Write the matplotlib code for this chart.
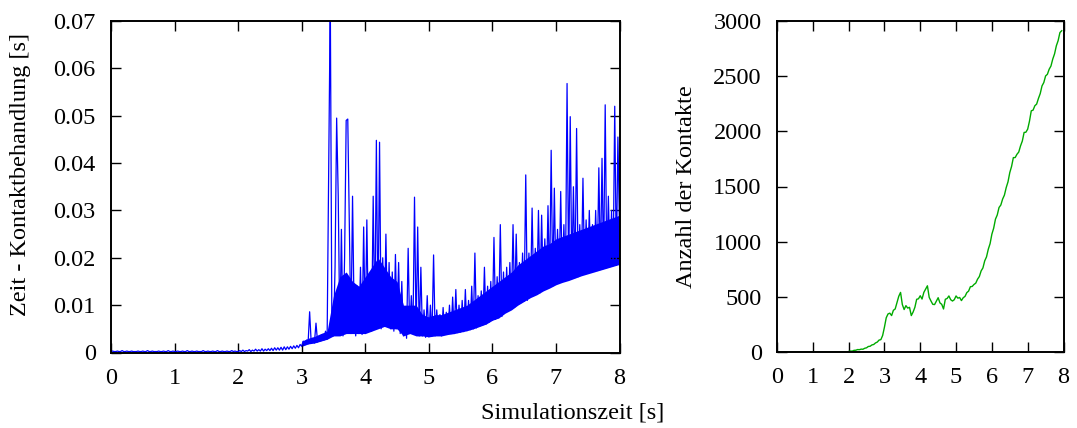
import numpy as np
import matplotlib
matplotlib.use("Agg")
import matplotlib.pyplot as plt

# Kontaktbehandlungszeit je Zeitschritt in ms, Abtastung alle 0.025 s (0 s .. 8 s)
dt_kontaktzeit = 0.025
kontaktzeit_ms = [
    # 0.0 - 1.0 s
    0.2, 0.3, 0.2, 0.2, 0.3, 0.2, 0.2, 0.4, 0.2, 0.2, 0.3, 0.2, 0.2, 0.3, 0.2, 0.2, 0.2, 0.3, 0.2, 0.2,
    0.3, 0.2, 0.2, 0.4, 0.2, 0.2, 0.3, 0.2, 0.2, 0.2, 0.3, 0.2, 0.2, 0.3, 0.2, 0.2, 0.4, 0.2, 0.2, 0.3,
    # 1.0 - 2.0 s
    0.2, 0.2, 0.3, 0.2, 0.2, 0.3, 0.2, 0.2, 0.4, 0.2, 0.2, 0.3, 0.2, 0.2, 0.3, 0.2, 0.2, 0.2, 0.4, 0.2,
    0.2, 0.3, 0.2, 0.2, 0.3, 0.2, 0.2, 0.4, 0.2, 0.2, 0.3, 0.2, 0.2, 0.3, 0.2, 0.2, 0.4, 0.2, 0.3, 0.2,
    # 2.0 - 3.0 s
    0.2, 0.4, 0.2, 0.5, 0.2, 0.4, 0.3, 0.6, 0.2, 0.5, 0.3, 0.7, 0.3, 0.6, 0.3, 0.8, 0.3, 0.7, 0.4, 0.8,
    0.4, 0.9, 0.4, 1.0, 0.5, 1.0, 0.5, 1.1, 0.5, 1.2, 0.6, 1.2, 0.7, 1.3, 0.8, 1.4, 0.9, 1.5, 1.0, 1.7,
    # 3.0 - 4.0 s
    1.3, 2.4, 1.6, 2.6, 1.8, 8.6, 2.0, 3.0, 2.0, 6.2, 2.2, 3.4, 2.4, 3.8, 2.6, 4.5, 2.8, 40.0, 75.0, 5.0,
    3.5, 18.0, 49.5, 33.0, 4.0, 26.0, 3.5, 20.0, 49.0, 49.3, 26.0, 4.0, 33.0, 8.0, 3.5, 14.0, 4.0, 18.0, 3.8, 26.5,
    # 4.0 - 5.0 s
    4.0, 28.0, 5.0, 16.0, 4.5, 33.0, 5.0, 44.8, 6.0, 44.4, 5.0, 20.0, 6.0, 25.0, 5.5, 19.0, 5.0, 17.0, 4.5, 20.7,
    5.0, 19.0, 4.0, 15.0, 3.5, 9.0, 3.0, 22.0, 4.0, 12.0, 4.0, 32.8, 4.0, 26.5, 3.5, 18.0, 3.5, 9.0, 3.2, 12.0,
    # 5.0 - 6.0 s
    3.3, 10.0, 3.5, 20.6, 3.5, 9.0, 3.8, 8.0, 3.5, 9.5, 3.8, 8.5, 4.0, 10.0, 4.0, 11.7, 4.0, 13.3, 4.2, 10.0,
    4.3, 11.0, 4.4, 13.3, 4.6, 11.0, 4.8, 14.0, 5.0, 21.0, 5.2, 12.0, 5.5, 13.0, 5.8, 18.0, 6.0, 14.0, 6.4, 15.0,
    # 6.0 - 7.0 s
    6.8, 24.3, 7.0, 16.0, 7.3, 27.0, 7.6, 17.0, 8.5, 18.0, 8.7, 19.0, 9.2, 27.0, 9.5, 25.0, 10.3, 19.0, 10.5, 21.0,
    10.8, 37.5, 11.0, 21.0, 11.8, 30.5, 12.0, 22.0, 12.3, 30.0, 12.6, 29.0, 13.2, 24.0, 13.4, 31.0, 13.8, 42.7, 14.0, 34.7,
    # 7.0 - 8.0 s
    14.5, 26.0, 14.7, 34.0, 15.0, 27.0, 15.2, 56.8, 15.4, 49.8, 15.6, 35.0, 15.8, 47.3, 16.0, 27.0, 16.4, 36.8, 16.5, 28.0,
    16.7, 30.0, 16.9, 27.0, 17.1, 30.0, 17.3, 39.0, 17.5, 41.0, 17.7, 52.3, 17.9, 33.0, 18.1, 30.0, 18.3, 52.0, 18.4, 45.5,
    # 8.0 s
    26.0,
]

# Dichtes Band der Kontaktbehandlungszeit (untere/obere Grenze in ms), alle 0.1 s von 3.0 s bis 8.0 s
t_band_start, dt_band = 3.0, 0.1
band_unten_ms = [
    1.3, 1.8, 2.0, 2.4, 2.8, 3.5, 3.5, 4.0, 4.0, 4.0,
    4.0, 4.5, 5.0, 5.5, 5.0, 5.0, 3.5, 4.0, 3.5, 3.5,
    3.3, 3.5, 3.5, 3.8, 4.0, 4.3, 4.6, 5.0, 5.5, 6.0,
    6.8, 7.3, 8.3, 9.0, 10.0, 10.8, 11.6, 12.2, 13.0, 13.6,
    14.3, 14.8, 15.2, 15.7, 16.2, 16.6, 17.0, 17.4, 17.8, 18.2,
    18.6,
]
band_oben_ms = [
    2.4, 3.0, 3.4, 4.0, 4.5, 12.0, 16.0, 17.0, 15.0, 14.0,
    16.0, 18.0, 20.0, 18.0, 16.0, 15.0, 10.0, 10.0, 10.0, 8.0,
    7.5, 8.0, 8.0, 8.5, 9.0, 9.5, 10.0, 11.0, 12.0, 13.0,
    14.0, 15.0, 16.0, 17.0, 18.5, 19.5, 20.5, 21.5, 22.5, 23.0,
    24.0, 24.5, 25.0, 25.5, 26.0, 26.5, 27.0, 27.5, 28.0, 28.5,
    29.0,
]

# Anzahl der Kontakte, Abtastung alle 0.05 s (0 s .. 7.95 s)
dt_kontakte = 0.05
anzahl_kontakte = [
    # 0.0 - 2.0 s
    0, 0, 0, 0, 0, 0, 0, 0, 0, 0, 0, 0, 0, 0, 0, 0, 0, 0, 0, 0,
    0, 0, 0, 0, 0, 0, 0, 0, 0, 0, 0, 0, 0, 0, 0, 0, 0, 0, 0, 0,
    # 2.0 - 3.0 s
    5, 9, 8, 15, 16, 22, 21, 26, 25, 34, 38, 50, 52, 64, 68, 82, 90, 108, 112, 150,
    # 3.0 - 4.0 s
    225, 310, 345, 352, 330, 378, 390, 448, 505, 540, 430, 385, 420, 398, 405, 330, 362, 405, 478, 482,
    # 4.0 - 5.0 s
    510, 480, 540, 570, 600, 495, 462, 432, 430, 462, 492, 445, 432, 390, 478, 485, 508, 474, 462, 474,
    # 5.0 - 6.0 s
    508, 488, 494, 466, 492, 504, 538, 552, 592, 594, 612, 624, 660, 684, 735, 762, 826, 862, 932, 982,
    # 6.0 - 7.0 s
    1068, 1122, 1204, 1242, 1310, 1332, 1386, 1422, 1490, 1542, 1626, 1682, 1762, 1762, 1792, 1812, 1868, 1912, 1990, 1992,
    # 7.0 - 7.95 s
    2020, 2092, 2186, 2192, 2232, 2247, 2298, 2342, 2412, 2442, 2502, 2517, 2563, 2592, 2655, 2702, 2775, 2822, 2895, 2912,
]

x_ticks = [0, 1, 2, 3, 4, 5, 6, 7, 8]
y_ticks_zeit = [0, 0.01, 0.02, 0.03, 0.04, 0.05, 0.06, 0.07]
y_ticklabels_zeit = ["0", "0.01", "0.02", "0.03", "0.04", "0.05", "0.06", "0.07"]
y_ticks_anzahl = [0, 500, 1000, 1500, 2000, 2500, 3000]

plt.rcParams["font.family"] = ["Liberation Serif", "DejaVu Serif"]
plt.rcParams["font.size"] = 17.5

W, H = 1077, 428
fig = plt.figure(figsize=(W / 100, H / 100), dpi=100)


def px_axes(left, top, right, bottom):
    return fig.add_axes([left / W, 1 - bottom / H, (right - left) / W, (bottom - top) / H])


ax1 = px_axes(111, 21, 619.5, 352.5)
ax2 = px_axes(777, 21, 1063.5, 352)

blau = "#0000ff"
t_band = t_band_start + np.arange(len(band_unten_ms)) * dt_band
ax1.fill_between(t_band, np.array(band_unten_ms) / 1000.0, np.array(band_oben_ms) / 1000.0,
                 color=blau, lw=0)
t_zeit = np.arange(len(kontaktzeit_ms)) * dt_kontaktzeit
ax1.plot(t_zeit, np.array(kontaktzeit_ms) / 1000.0, color=blau, lw=0.9)
ax1.set_xlim(0, 8)
ax1.set_ylim(0, 0.07)
ax1.set_xticks(x_ticks)
ax1.set_yticks(y_ticks_zeit)
ax1.set_yticklabels(y_ticklabels_zeit)

t_anzahl = np.arange(len(anzahl_kontakte)) * dt_kontakte
ax2.plot(t_anzahl, anzahl_kontakte, color="#00aa00", lw=1.0)
ax2.set_xlim(0, 8)
ax2.set_ylim(0, 3000)
ax2.set_xticks(x_ticks)
ax2.set_yticks(y_ticks_anzahl)

for ax in (ax1, ax2):
    for s in ax.spines.values():
        s.set_linewidth(1.4)
        s.set_color("black")
    ax.tick_params(direction="in", length=7, width=1.0, top=True, right=True,
                   labelsize=17.5, colors="black")
    ax.tick_params(axis="x", pad=11)
    ax.tick_params(axis="y", pad=11)

fig.text(21 / W, 1 - 174 / H, "Zeit - Kontaktbehandlung [s]", rotation=90,
         ha="center", va="center", fontsize=17.5)
fig.text(687 / W, 1 - 187 / H, "Anzahl der Kontakte", rotation=90,
         ha="center", va="center", fontsize=17.5)
fig.text(573 / W, 1 - 413 / H, "Simulationszeit [s]", ha="center", va="center",
         fontsize=17.5)

fig.savefig("out.png", dpi=100)
